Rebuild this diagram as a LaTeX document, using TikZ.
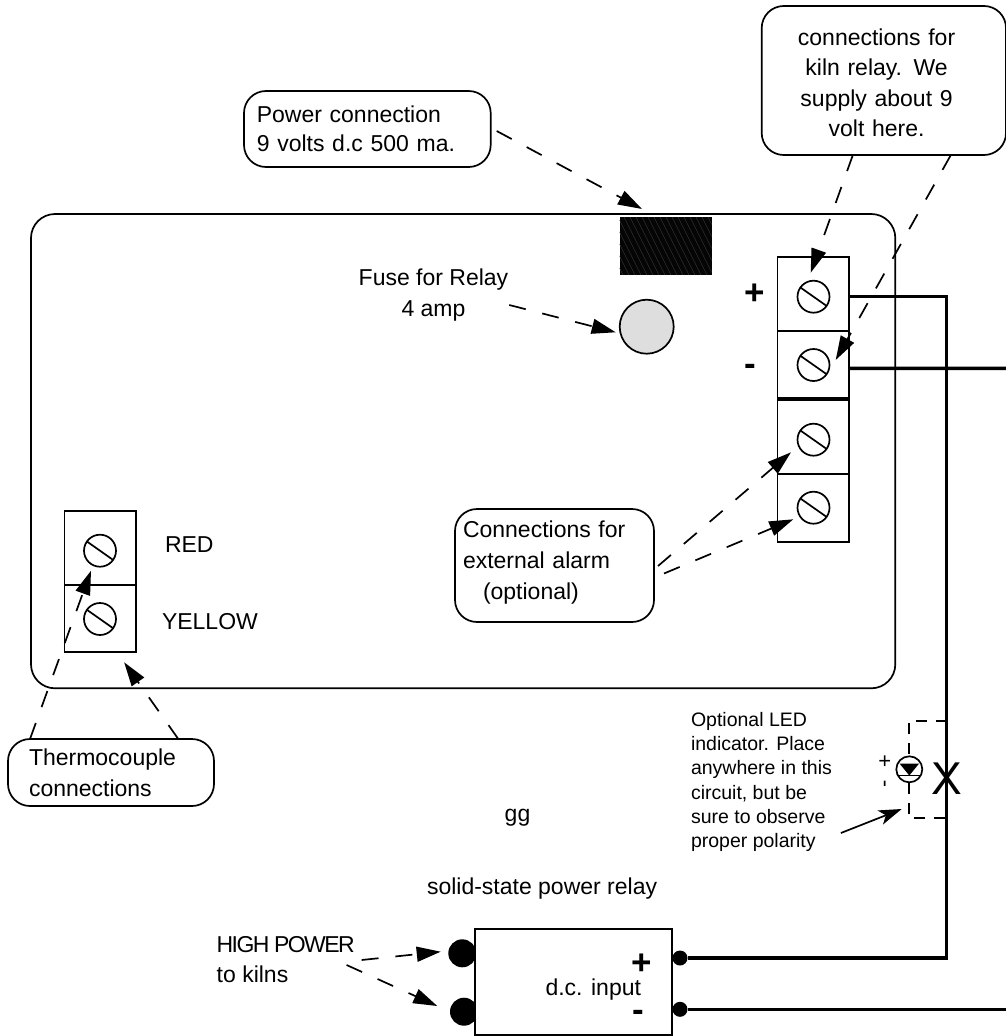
\documentclass[tikz,border=0pt]{standalone}
\usepackage{fontspec}
\setmainfont{Liberation Sans}
\usetikzlibrary{arrows.meta,calc}
\tikzset{
  outline/.style={draw=black,line width=1.7pt},
  txt/.style={inner sep=0pt,outer sep=0pt,text=black,font=\fontsize{23}{29}\selectfont},
  callout/.style={outline,fill=white,rounded corners=22pt,inner ysep=0pt,outer sep=0pt,txt},
  termblock/.style={outline,rectangle,minimum width=71.5pt,inner sep=0pt,outer sep=0pt},
  screw/.style={outline,circle,minimum size=32pt,inner sep=0pt,outer sep=0pt},
  dasharrow/.style={line width=1.7pt,dash pattern=on 17pt off 17pt,-{Triangle[length=24pt,width=15pt]}},
  wire/.style={line width=3.4pt,line join=miter},
  bold/.style={inner sep=0pt,outer sep=0pt,font=\fontsize{35}{38}\selectfont\bfseries},
}
\newcommand{\kl}{\hspace*{-14.6pt}}
\begin{document}
\begin{tikzpicture}[x=1pt,y=-1pt]
\useasboundingbox (0,0) rectangle (1006,1036);
% board
\node[outline,rectangle,rounded corners=24pt,minimum width=864.3pt,minimum height=474.3pt,inner sep=0pt,outer sep=0pt] (board) at (463.15,451.15) {};
% power socket
\node[fill=black!98,minimum width=92pt,minimum height=58pt,inner sep=0pt,outer sep=0pt] (socket) at (665.5,246) {};
\begin{scope}
\clip (619.5,217) rectangle (711.5,275);
\foreach \i in {0,6,...,170}{\draw[black!75,line width=.35pt] (570+\i,217) -- (570+\i+29,275);}
\end{scope}
% fuse
\node[outline,circle,fill=black!13,minimum size=54pt,inner sep=0pt,outer sep=0pt] (fuse) at (646.7,326.7) {};
% right terminal blocks
\node[termblock,minimum height=74pt] (t1) at (813.25,293.7) {};
\node[termblock,minimum height=67.3pt] (t2) at (813.25,364.35) {};
\node[termblock,minimum height=74pt] (t3) at (813.25,437) {};
\node[termblock,minimum height=67.7pt] (t4) at (813.25,507.85) {};
\node[screw] (s1) at (813.5,296.7) {};
\node[screw] (s2) at (813.5,365) {};
\node[screw] (s3) at (813.5,439.7) {};
\node[screw] (s4) at (813.5,507.7) {};
% left terminal block
\node[termblock,minimum height=74pt] (l1) at (100.15,548) {};
\node[termblock,minimum height=67.3pt] (l2) at (100.15,618.65) {};
\node[screw] (s5) at (100,550.7) {};
\node[screw] (s6) at (100,619) {};
\foreach \s in {s1,s2,s3,s4,s5,s6}{\draw[line width=1.7pt] ($(\s.center)+(-13.5,-9.5)$) -- ($(\s.center)+(13.5,9.5)$);}
\node[bold,anchor=center] (plus1) at (755,294) {+};
\node[bold,anchor=center] (minus1) at (750.7,370) {-};
% relay
\node[fill=black,circle,minimum size=28pt,inner sep=0pt,outer sep=0pt] (ld1) at (462.3,953.3) {};
\node[fill=black,circle,minimum size=28pt,inner sep=0pt,outer sep=0pt] (ld2) at (464,1011.7) {};
\node[outline,rectangle,fill=white,minimum width=196.7pt,minimum height=105.7pt,inner sep=0pt,outer sep=0pt] (relay) at (573.35,982.15) {};
\node[fill=black,circle,minimum size=15pt,inner sep=0pt,outer sep=0pt] (rd1) at (680,958) {};
\node[fill=black,circle,minimum size=15pt,inner sep=0pt,outer sep=0pt] (rd2) at (680,1009.3) {};
\node[txt,anchor=base east] (dcinput) at (641,995) {d.c. input};
\node[bold,anchor=center] (plus2) at (642,964.5) {+};
\node[bold,anchor=center] (minus2) at (638,1015.5) {-};
\node[txt,anchor=base west] (ssr) at (427,894) {solid-state power relay};
% wires
\coordinate (w2end) at (1006,368.3);
\coordinate (w3end) at (1006,1009.3);
\draw[wire] ($(t1.east)+(0,3)$) -- ++(97.7,0) |- (rd1);
\draw[wire] ($(t2.east)+(0,4)$) -- (w2end);
\draw[wire] (rd2) -- (w3end);
% LED
\coordinate (ledA) at (946.7,720.7);
\coordinate (ledB) at (909.3,720.7);
\coordinate (ledC) at (909.3,818.3);
\coordinate (ledD) at (946.7,818.3);
\draw[line width=1.7pt,dash pattern=on 11pt off 9pt] (ledA) -- (ledB) -- (ledC) -- (ledD);
\node[outline,circle,fill=white,minimum size=26pt,inner sep=0pt,outer sep=0pt] (led) at (909.3,769.3) {};
\fill (899.5,763.5) -- (919.1,763.5) -- (909.3,775.5) -- cycle;
\draw[line width=1.4pt] (898.5,775.5) -- (920,775.5);
\node[inner sep=0pt,outer sep=0pt,font=\fontsize{22}{24}\selectfont] (ledp) at (884.7,761.7) {+};
\node[inner sep=0pt,outer sep=0pt,rotate=90,font=\fontsize{22}{24}\selectfont] (ledm) at (887.2,784.3) {-};
\node[inner sep=0pt,outer sep=0pt,font=\fontsize{46}{50}\selectfont] (xmark) at (947,779) {X};
\node[txt,anchor=west,align=left,font=\fontsize{19.5}{24.3}\selectfont] (ledtxt) at (691,782) {Optional LED\\indicator. Place\\anywhere in this\\circuit, but be\\sure to observe\\proper polarity};
\draw[line width=1.7pt,-{Stealth[length=23pt,width=15pt,inset=6pt]}] ($(ledtxt.east)+(9,51)$) -- ($(ledC)+(-7.6,-9.3)$);
% labels
\node[txt,anchor=base west] (red) at (165,552) {RED};
\node[txt,anchor=base west] (yellow) at (162,629) {YELLOW};
\node[txt,anchor=base] (gg) at (517.5,821) {gg};
\node[txt,anchor=center,align=center,font=\fontsize{23}{31}\selectfont] (fusetxt) at (433.5,295.5) {Fuse for Relay\\4 amp};
\node[txt,anchor=west,align=left,font=\fontsize{23}{30}\selectfont] (hp) at (216.7,960) {{\addfontfeature{LetterSpace=-7}HIGH POWER}\\to kilns};
% callouts
\node[callout,minimum width=246.7pt,minimum height=76pt,text width=221pt,inner xsep=12.7pt,align=left] (power) at (367.35,129) {Power connection\\9 volts d.c 500 ma.};
\node[callout,minimum width=244.3pt,minimum height=149pt,text width=220pt,inner xsep=12pt,align=center,font=\fontsize{23}{30.3}\selectfont] (kiln) at (883.85,80.5) {\kl\rule{0pt}{21.4pt}connections for\\\kl kiln relay. We\\\kl supply about 9\\\kl volt here.};
\node[callout,minimum width=199pt,minimum height=113pt,text width=183pt,inner xsep=8pt,align=left,font=\fontsize{23}{31}\selectfont] (alarm) at (554.5,565.5) {Connections for\\external alarm\\\hspace*{20pt}(optional)\rule[-10pt]{0pt}{0pt}};
\node[callout,minimum width=206pt,minimum height=67pt,text width=164pt,inner xsep=21pt,align=left,font=\fontsize{23}{30.7}\selectfont] (thermo) at (111,772.5) {Thermocouple\\connections};
% dashed arrows
\draw[dasharrow] ($(power.east)+(6,2)$) -- ($(socket.north west)+(22.5,-8)$);
\draw[dasharrow] ($(kiln.south)+(-31,0)$) -- ($(s1.center)+(-2.8,-24)$);
\draw[dasharrow] ($(kiln.south)+(67,0)$) -- ($(s2.center)+(22.2,-5)$);
\draw[dasharrow] ($(fusetxt.east)+(1,9.5)$) -- ($(fuse.center)+(-31,5.6)$);
\draw[dasharrow] ($(alarm.east)+(4,0.5)$) -- ($(s3.center)+(-22.5,12.6)$);
\draw[dasharrow] ($(alarm.east)+(10,8)$) -- ($(s4.center)+(-20.2,11.6)$);
\draw[dasharrow] ($(thermo.north)+(-81,0)$) -- ($(s5.center)+(-9,20)$);
\draw[dasharrow] ($(thermo.north)+(67.3,0)$) -- ($(l2.south)+(24,10)$);
\draw[dasharrow] ($(hp.east)+(7,0)$) -- ($(ld1.center)+(-21.6,-1.6)$);
\draw[dasharrow] ($(hp.east)+(-8,5)$) -- ($(ld2.center)+(-26.7,-5.7)$);
\end{tikzpicture}
\end{document}
